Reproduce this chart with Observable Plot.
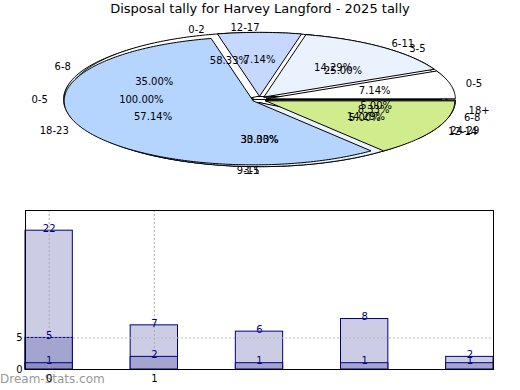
<!DOCTYPE html>
<html><head><meta charset="utf-8">
<script src="https://cdn.jsdelivr.net/npm/d3@7"></script>
<script src="https://cdn.jsdelivr.net/npm/@observablehq/plot@0.6"></script>
<style>
body{margin:0;background:#fff;}
#wrap{position:relative;width:520px;height:390px;font-family:"DejaVu Sans",sans-serif;overflow:hidden;}
#title{position:absolute;left:0;top:1px;width:520px;text-align:center;font-size:13px;line-height:16px;color:#000;}
#pie{position:absolute;left:0;top:0;}
#bars{position:absolute;left:0;top:200px;}
#wm{position:absolute;left:0;top:372px;font-size:12px;line-height:14px;color:#999;}
</style></head><body>
<div id="wrap"><div id="pie"></div><div id="wm">Dream-Stats.com</div><div id="bars"></div><div id="title">Disposal tally for Harvey Langford - 2025 tally</div></div>
<script>
// ---- pie data (several overlaid pies, drawn in this order) ----
const pieALabels = ["0-5"];
const pieAValues = [1];
const pieCLabels = ["3-5", "6-8", "9-11", "12-14", "18+"];
const pieCValues = [5, 7, 6, 1, 1];
const pieBLabels = ["0-2", "3-5", "6-8"];
const pieBValues = [7, 4, 1];
const pieDLabels = ["0-5", "6-11", "12-17", "18-23", "24-29"];
const pieDValues = [1, 2, 1, 8, 2];
const sliceColors = ["#ffffff", "#eaf2fe", "#c6d8fe", "#b5d5fe", "#d0ec8c"];

// ---- bar data ----
const barCats = [0, 1, 2, 3, 4];
const lightVals = [22, 7, 6, 8, 2];
const midVals = [5, 2, 1, 1, 1];
const darkVals = [1, null, null, null, null];
const xTicks = [0, 1];
const yTicks = [0, 5];

const pies = [[pieALabels, pieAValues], [pieCLabels, pieCValues], [pieBLabels, pieBValues], [pieDLabels, pieDValues]];
const CX = 259, CY = 99, RX = 189, RY = 64, EXP = 7, EXPY = 0.45;
const polys = [], pct = [], catStart = [], catEnd = [], shadow = [];
for (let k = 0; k <= 360; k++) {
  const a = k * Math.PI / 180;
  shadow.push({x: CX - 2 + RX * Math.cos(a), y: CY + 2 + RY * Math.sin(a)});
}
pies.forEach(([labels, values], p) => {
  const total = d3.sum(values);
  let a0 = 0;
  values.forEach((v, i) => {
    const a1 = a0 + v / total * 2 * Math.PI;
    const mid = (a0 + a1) / 2;
    const ox = CX + EXP * Math.cos(mid), oy = CY - EXP * EXPY * Math.sin(mid);
    const id = p + "-" + i, color = sliceColors[i % sliceColors.length];
    const n = Math.max(2, Math.ceil((a1 - a0) / (Math.PI / 180)));
    polys.push({id, color, x: ox, y: oy});
    for (let k = 0; k <= n; k++) {
      const a = a0 + (a1 - a0) * k / n;
      polys.push({id, color, x: ox + RX * Math.cos(a), y: oy - RY * Math.sin(a)});
    }
    polys.push({id, color, x: ox, y: oy});
    pct.push({x: CX + 0.625 * RX * Math.cos(mid), y: CY - 0.625 * RY * Math.sin(mid), text: (v / total * 100).toFixed(2) + "%"});
    const deg = mid * 180 / Math.PI;
    const lab = {x: CX + 1.12 * RX * Math.cos(mid), y: CY - 1.12 * RY * Math.sin(mid), text: labels[i]};
    (deg >= 89.9 && deg <= 270.1 ? catEnd : catStart).push(lab);
    a0 = a1;
  });
});

const pie = Plot.plot({
  width: 520, height: 200, margin: 0,
  x: {domain: [0, 520], range: [0, 520], axis: null},
  y: {domain: [0, 200], range: [0, 200], axis: null},
  color: {type: "identity"},
  style: {fontFamily: "DejaVu Sans", fontSize: "10px", background: "transparent"},
  marks: [
    Plot.line(shadow, {x: "x", y: "y", stroke: "#555", strokeWidth: 2.5}),
    Plot.line(polys, {x: "x", y: "y", z: "id", fill: "color", stroke: "#000", strokeWidth: 1}),
    Plot.text(pct, {x: "x", y: "y", text: "text", fill: "#000", fontSize: 10}),
    Plot.text(catStart, {x: "x", y: "y", text: "text", fill: "#000", fontSize: 10, textAnchor: "start"}),
    Plot.text(catEnd, {x: "x", y: "y", text: "text", fill: "#000", fontSize: 10, textAnchor: "end"})
  ]
});
document.getElementById("pie").appendChild(pie);

const HALF = 0.225;
const mk = (vals) => barCats.map((c, i) => ({c, v: vals[i]})).filter(d => d.v != null);
const barLayer = (vals, fill) => Plot.rectY(mk(vals), {x1: d => d.c - HALF, x2: d => d.c + HALF, y1: 0, y2: "v", fill, stroke: "#000080", strokeWidth: 1});
const labLayer = (vals) => Plot.text(mk(vals), {x: "c", y: "v", text: d => String(d.v), fill: "#000080", fontSize: 10, dy: -2});

const bars = Plot.plot({
  width: 520, height: 190,
  marginLeft: 25, marginRight: 27, marginTop: 10, marginBottom: 21,
  x: {domain: [-HALF, 4 + HALF], axis: null},
  y: {domain: [0, 25.2], axis: null},
  style: {fontFamily: "DejaVu Sans", fontSize: "10px", background: "transparent"},
  marks: [
    barLayer(lightVals, "#ccccE4"),
    barLayer(midVals, "#a4a4d0"),
    barLayer(darkVals, "#8e8ec2"),
    Plot.gridX({ticks: xTicks, stroke: "#aaa", strokeOpacity: 1, strokeDasharray: "2,2"}),
    Plot.gridY({ticks: [5], stroke: "#bbb", strokeOpacity: 1, strokeDasharray: "2,2"}),
    labLayer(lightVals),
    labLayer(midVals),
    labLayer(darkVals),
    Plot.axisY({ticks: yTicks, tickSize: 0, tickPadding: 3, fontSize: 10, fill: "#000", label: null, tickFormat: d => String(d)}),
    Plot.axisX({ticks: xTicks, tickSize: 0, tickPadding: 5, fontSize: 10, fill: "#000", label: null, tickFormat: d => String(d)}),
    Plot.frame({stroke: "#000"})
  ]
});
document.getElementById("bars").appendChild(bars);
</script>
</body></html>
